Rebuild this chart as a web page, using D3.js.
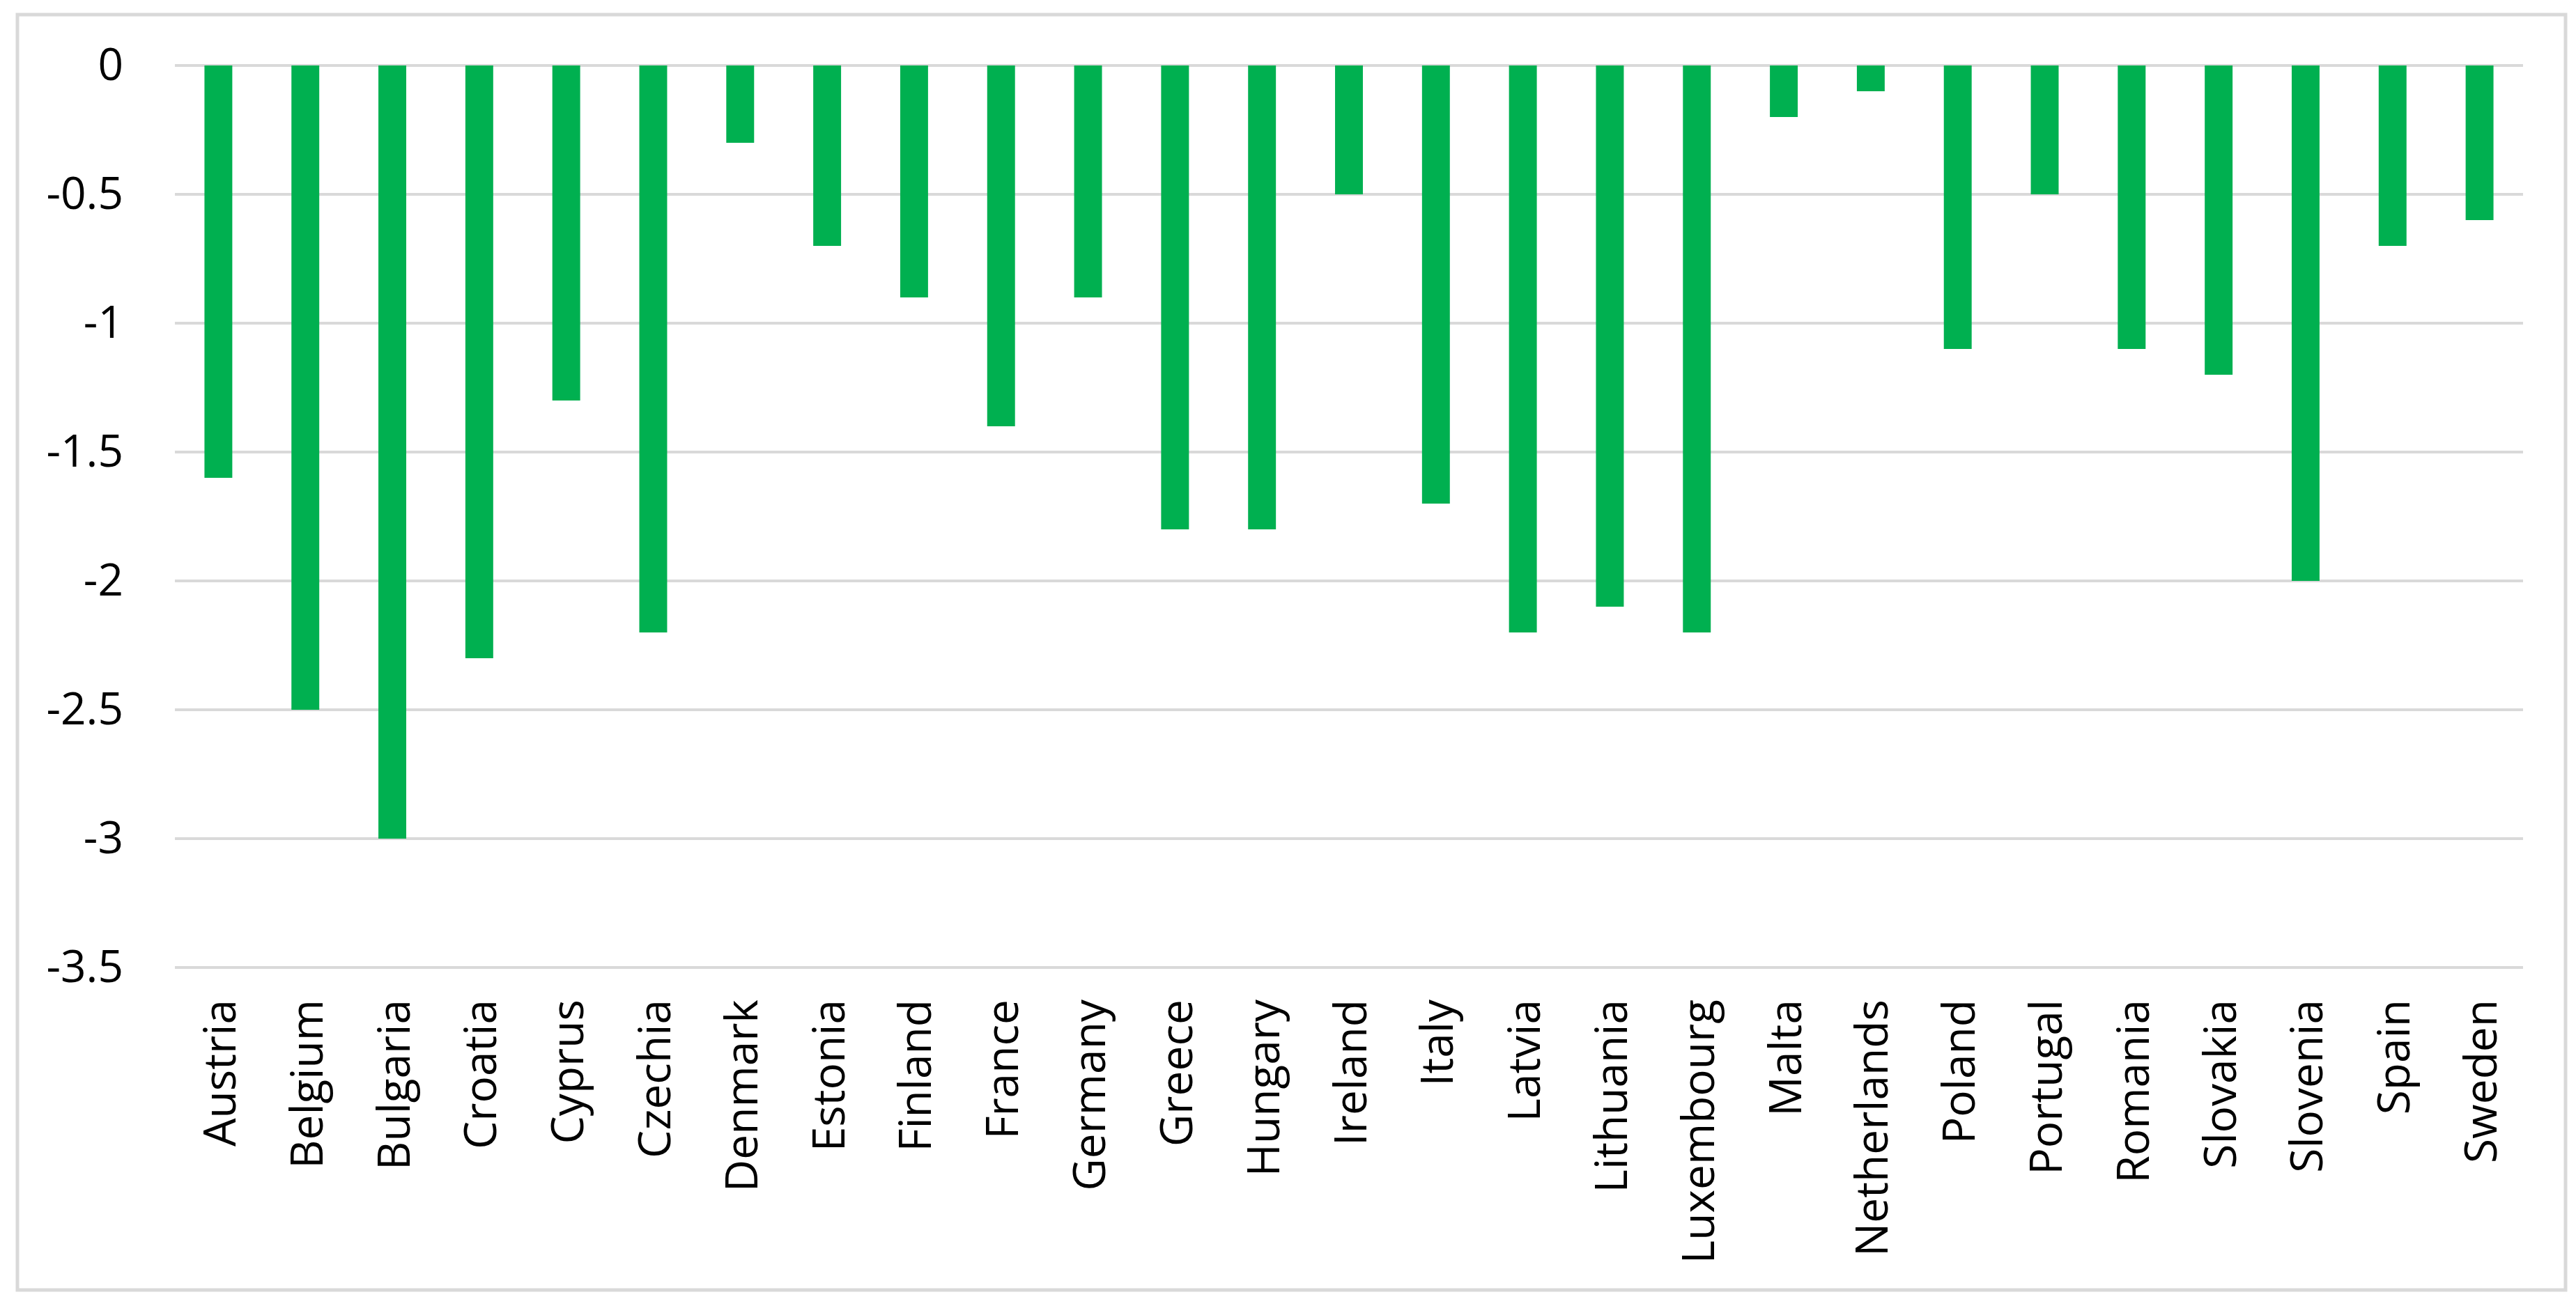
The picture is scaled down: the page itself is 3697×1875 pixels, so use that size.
<!DOCTYPE html>
<meta charset="utf-8">
<head>
    <title>Change by country</title>
</head>
<style>
    body { margin: 0; background: #fff; }
    svg { display: block; }
</style>
<script src="https://d3js.org/d3.v7.min.js"></script>
<body>
    <div id="chart"></div>
</body>
<script>

    // data
    var countries = ["Austria", "Belgium", "Bulgaria", "Croatia", "Cyprus", "Czechia", "Denmark",
        "Estonia", "Finland", "France", "Germany", "Greece", "Hungary", "Ireland", "Italy", "Latvia",
        "Lithuania", "Luxembourg", "Malta", "Netherlands", "Poland", "Portugal", "Romania",
        "Slovakia", "Slovenia", "Spain", "Sweden"];
    var values = [-1.6, -2.5, -3.0, -2.3, -1.3, -2.2, -0.3,
        -0.7, -0.9, -1.4, -0.9, -1.8, -1.8, -0.5, -1.7, -2.2,
        -2.1, -2.2, -0.2, -0.1, -1.1, -0.5, -1.1,
        -1.2, -2.0, -0.7, -0.6];
    var yTicks = [0, -0.5, -1, -1.5, -2, -2.5, -3, -3.5];
    var yLabels = ["0", "-0.5", "-1", "-1.5", "-2", "-2.5", "-3", "-3.5"];

    var W = 3697, H = 1875;
    var margin = { top: 94, right: 76, bottom: 486, left: 251 },
        width = W - margin.left - margin.right,
        height = H - margin.top - margin.bottom;

    var font = "'Open Sans', sans-serif";
    var fontSize = 64;

    var svg = d3.select("#chart")
        .append("svg")
        .attr("width", W)
        .attr("height", H);

    // chart area border
    svg.append("rect")
        .attr("x", 25)
        .attr("y", 21)
        .attr("width", 3657)
        .attr("height", 1831)
        .attr("fill", "#fff")
        .attr("stroke", "#d9d9d9")
        .attr("stroke-width", 5);

    var g = svg.append("g")
        .attr("transform", "translate(" + margin.left + "," + margin.top + ")");

    var x = d3.scaleBand()
        .domain(countries)
        .range([0, width])
        .paddingInner(0.68)
        .paddingOuter(0.34);

    var y = d3.scaleLinear()
        .domain([0, -3.5])
        .range([0, height]);

    // gridlines
    g.append("g")
        .selectAll("line")
        .data(yTicks)
        .enter()
        .append("line")
        .attr("x1", 0)
        .attr("x2", width)
        .attr("y1", function (d) { return y(d); })
        .attr("y2", function (d) { return y(d); })
        .attr("stroke", "#d9d9d9")
        .attr("stroke-width", 4);

    // y axis labels
    var yaxis = d3.axisLeft(y)
        .tickValues(yTicks)
        .tickSize(0)
        .tickPadding(74)
        .tickFormat(function (d, i) { return yLabels[i]; });

    g.append("g")
        .call(yaxis)
        .call(function (a) { a.select(".domain").remove(); })
        .selectAll("text")
        .attr("font-family", font)
        .attr("font-size", fontSize)
        .attr("fill", "#000");

    // bars
    g.selectAll(".bar")
        .data(values)
        .enter()
        .append("rect")
        .attr("class", "bar")
        .attr("x", function (d, i) { return x(countries[i]); })
        .attr("y", y(0))
        .attr("width", x.bandwidth())
        .attr("height", function (d) { return y(d) - y(0); })
        .attr("fill", "#00b050");

    // x axis labels (rotated)
    var xaxis = d3.axisBottom(x)
        .tickSize(0)
        .tickPadding(0);

    g.append("g")
        .attr("transform", "translate(0," + height + ")")
        .call(xaxis)
        .call(function (a) { a.select(".domain").remove(); })
        .selectAll("text")
        .attr("font-family", font)
        .attr("font-size", fontSize)
        .attr("fill", "#000")
        .attr("text-anchor", "end")
        .attr("dy", null)
        .attr("transform", "translate(0,46) rotate(-90)")
        .attr("x", 0)
        .attr("y", 0)
        .attr("dominant-baseline", "central");

</script>
